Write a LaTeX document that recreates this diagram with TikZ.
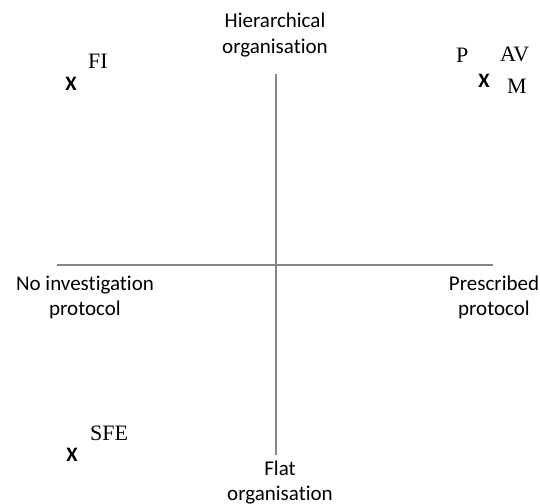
\documentclass[tikz,border=0pt]{standalone}
\usepackage{fontspec}
\setmainfont{Carlito}[Ligatures=NoCommon]
\newfontfamily\pointfont{Liberation Serif}
\definecolor{axisgray}{RGB}{134,134,134}
\begin{document}
\begin{tikzpicture}[x=1pt,y=-1pt,
  axis/.style={draw=axisgray,line width=2pt},
  axislabel/.style={font=\fontsize{21}{25}\selectfont,align=center,anchor=base,inner sep=0pt},
  marker/.style={font=\fontsize{20.5}{25}\selectfont\bfseries,anchor=base,inner sep=0pt},
  pointlabel/.style={font=\pointfont\fontsize{22}{26}\selectfont,anchor=base west,inner sep=0pt}]
  \useasboundingbox (0,0) rectangle (540,503);

  % axis end points
  \coordinate (top) at (275.5,74);
  \coordinate (bottom) at (275.5,455);
  \coordinate (left) at (57,265);
  \coordinate (right) at (493,265);
  \draw[axis] (left) -- (right);
  \draw[axis] (top) -- (bottom);

  % axis captions (base anchor sits on the last line)
  \node[axislabel] (hier) at (275,53) {Hierarchical\\organisation};
  \node[axislabel] (flat) at (280,500) {Flat\\organisation};
  \node[axislabel] (noinv) at (85,315) {No investigation\\protocol};
  \node[axislabel] (presc) at (494,315) {Prescribed\\protocol};

  % plotted cases
  \node[marker] (xfi) at (71,90) {X};
  \node[pointlabel] (fi) at (88,68) {FI};

  \node[marker] (xpam) at (484,87) {X};
  \node[pointlabel] (p) at (456,63) {P};
  \node[pointlabel] (av) at (500,62) {AV};
  \node[pointlabel] (m) at (507,93) {M};

  \node[marker] (xsfe) at (72,461) {X};
  \node[pointlabel] (sfe) at (90,440) {SFE};
\end{tikzpicture}
\end{document}
